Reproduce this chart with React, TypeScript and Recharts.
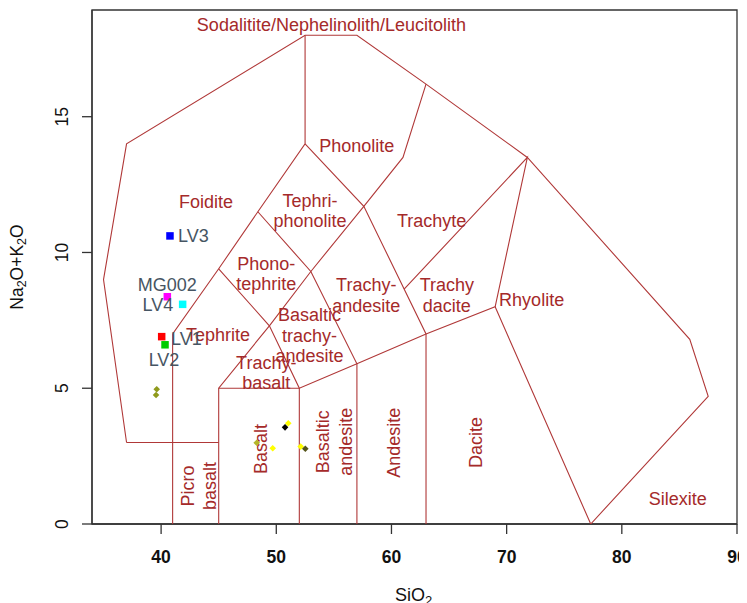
import React from 'react';
import { ScatterChart, XAxis, YAxis, Scatter, ReferenceArea } from 'recharts';

// ---------- data ----------
const xTicks = [40, 50, 60, 70, 80, 90];
const yTicks = [0, 5, 10, 15];
const xDomain = [34, 90];
const yDomain = [0, 18.93];

// TAS field boundaries (SiO2, Na2O+K2O)
const outerBoundary: [number, number][] = [[37, 3], [35, 9], [37, 14], [52.5, 18], [57, 18], [63, 16.2], [71.8, 13.5], [85.9, 6.8], [87.5, 4.7], [77.3, 0]];
const foiditeBase: [number, number][] = [[37, 3], [45, 3]];
const lineA: [number, number][] = [[41, 0], [41, 7], [45, 9.4], [48.4, 11.5], [52.5, 14], [52.5, 18]];
const lineB: [number, number][] = [[45, 0], [45, 5], [49.4, 7.3], [53, 9.3], [57.6, 11.7], [61, 13.5], [63, 16.2]];
const lineC: [number, number][] = [[45, 9.4], [49.4, 7.3], [52, 5], [52, 0]];
const lineD: [number, number][] = [[48.4, 11.5], [53, 9.3], [57, 5.9], [57, 0]];
const lineE: [number, number][] = [[52.5, 14], [57.6, 11.7], [63, 7], [63, 0]];
const lineF: [number, number][] = [[45, 5], [52, 5], [57, 5.9], [63, 7], [69, 8], [77.3, 0]];
const lineG: [number, number][] = [[61.1, 8.65], [71.8, 13.5], [69, 8]];
const boundaries = [outerBoundary, foiditeBase, lineA, lineB, lineC, lineD, lineE, lineF, lineG];

// field names and their anchor positions
const fieldLabels = [
  { name: 'Sodalitite/Nephelinolith/Leucitolith', x: 54.79, y: 18.39 },
  { name: 'Phonolite', x: 56.98, y: 13.91 },
  { name: 'Foidite', x: 43.9, y: 11.85 },
  { name: 'Tephri-\nphonolite', x: 52.93, y: 11.52 },
  { name: 'Trachyte', x: 63.49, y: 11.17 },
  { name: 'Phono-\ntephrite', x: 49.13, y: 9.21 },
  { name: 'Trachy-\nandesite', x: 57.81, y: 8.41 },
  { name: 'Trachy\ndacite', x: 64.81, y: 8.41 },
  { name: 'Rhyolite', x: 72.17, y: 8.26 },
  { name: 'Basaltic\ntrachy-\nandesite', x: 52.88, y: 6.94 },
  { name: 'Tephrite', x: 44.94, y: 6.97 },
  { name: 'Trachy-\nbasalt', x: 49.13, y: 5.55 },
  { name: 'Picro\nbasalt', x: 43.27, y: 1.4 },
  { name: 'Basalt', x: 48.67, y: 2.76 },
  { name: 'Basaltic\nandesite', x: 55.07, y: 3.03 },
  { name: 'Andesite', x: 60.2, y: 2.99 },
  { name: 'Dacite', x: 67.3, y: 3.0 },
  { name: 'Silexite', x: 84.86, y: 0.93 },
];
const verticalFields = ['Picro\nbasalt', 'Basalt', 'Basaltic\nandesite', 'Andesite', 'Dacite'];

// labelled samples
const sampleNames = ['LV3', 'MG002', 'LV4', 'LV1', 'LV2'];
const sampleSiO2 = [40.77, 40.54, 41.87, 40.05, 40.34];
const sampleAlk = [10.61, 8.37, 8.09, 6.9, 6.6];
const sampleColors = ['#0000FF', '#FF00FF', '#00FFFF', '#FF0000', '#00CC00'];

// unlabelled samples
const smallSiO2 = [39.62, 39.56, 50.76, 51.04, 48.3, 49.69, 52.12, 52.52];
const smallAlk = [4.96, 4.75, 3.56, 3.71, 2.99, 2.79, 2.85, 2.77];
const smallColors = ['#8f9a1c', '#8f9a1c', '#000000', '#FFFF00', '#b5b52a', '#FFFF00', '#FFFF00', '#55551a'];

// ---------- styles ----------
const BROWN = '#A52A2A';
const LINE = '#B03838';
const AXIS = '#333333';
const FONT = '"Liberation Sans", Arial, Helvetica, sans-serif';
const LABEL_GREY = '#465563';
const labelPlacement: Record<string, { dx: number; dy: number; anchor: 'start' | 'middle' | 'end' }> = {
  LV3: { dx: 8, dy: 0.5, anchor: 'start' },
  MG002: { dx: 0, dy: -11.7, anchor: 'middle' },
  LV4: { dx: -9.4, dy: 0.7, anchor: 'end' },
  LV1: { dx: 9.3, dy: 2.3, anchor: 'start' },
  LV2: { dx: -1, dy: 15.3, anchor: 'middle' },
};

const toPts = (arr: [number, number][]) => arr.map(([x, y]) => ({ x, y }));
const samples = sampleNames.map((name, i) => ({ name, x: sampleSiO2[i], y: sampleAlk[i], color: sampleColors[i] }));
const smallPts = smallSiO2.map((x, i) => ({ x, y: smallAlk[i], color: smallColors[i] }));

const Empty = () => <g />;

const FieldLabel = (props: any) => {
  const { cx, cy, payload } = props;
  const lines: string[] = payload.name.split('\n');
  const vertical = verticalFields.includes(payload.name);
  const step = vertical ? 22.5 : 20.3;
  const n = lines.length;
  return (
    <text
      x={cx}
      y={cy}
      fill={BROWN}
      fontSize={18}
      fontFamily={FONT}
      textAnchor="middle"
      transform={vertical ? `rotate(-90, ${cx}, ${cy})` : undefined}
    >
      {lines.map((l, i) => (
        <tspan key={i} x={cx} y={cy + (i - (n - 1) / 2) * step} dominantBaseline="central">
          {l}
        </tspan>
      ))}
    </text>
  );
};

const SquareMarker = (props: any) => {
  const { cx, cy, payload } = props;
  const p = labelPlacement[payload.name];
  const s = 7.5;
  return (
    <g>
      <rect x={cx - s / 2} y={cy - s / 2} width={s} height={s} fill={payload.color} />
      <text
        x={cx + p.dx}
        y={cy + p.dy}
        textAnchor={p.anchor}
        dominantBaseline="central"
        fontSize={18}
        fontFamily={FONT}
        fill={LABEL_GREY}
      >
        {payload.name}
      </text>
    </g>
  );
};

const DiamondMarker = (props: any) => {
  const { cx, cy, payload } = props;
  const r = 3.3;
  return <polygon points={`${cx},${cy - r} ${cx + r},${cy} ${cx},${cy + r} ${cx - r},${cy}`} fill={payload.color} />;
};

const XTick = (props: any) => {
  const { x, y, payload } = props;
  return (
    <text x={x} y={y + 22.7} textAnchor="middle" dominantBaseline="central" fontSize={17.5} fontWeight="bold" fontFamily={FONT} fill="#111">
      {payload.value}
    </text>
  );
};

const YTick = (props: any) => {
  const { x, y, payload } = props;
  const cx = x - 20;
  return (
    <text x={cx} y={y} textAnchor="middle" dominantBaseline="central" fontSize={17.5} fontFamily={FONT} fill="#111" transform={`rotate(-90, ${cx}, ${y})`}>
      {payload.value}
    </text>
  );
};

const XTitle = (props: any) => {
  const vb = props.viewBox || { x: 84, y: 516, width: 645 };
  const cx = vb.x + vb.width / 2 - 1;
  const cy = 587;
  return (
    <text x={cx} y={cy} textAnchor="middle" dominantBaseline="central" fontSize={18} fontFamily={FONT} fill="#111">
      SiO
      <tspan fontSize={13} dy={5}>2</tspan>
    </text>
  );
};

const YTitle = (props: any) => {
  const vb = props.viewBox || { x: 0, y: 2, height: 514 };
  const cx = 9;
  const cy = vb.y + vb.height / 2;
  return (
    <text x={cx} y={cy} textAnchor="middle" dominantBaseline="central" fontSize={17.5} fontFamily={FONT} fill="#111" transform={`rotate(-90, ${cx}, ${cy})`}>
      Na
      <tspan fontSize={12.5} dy={5}>2</tspan>
      <tspan dy={-5}>O+K</tspan>
      <tspan fontSize={12.5} dy={5}>2</tspan>
      <tspan dy={-5}>O</tspan>
    </text>
  );
};

export default function App() {
  return (
    <div style={{ width: 739, height: 595, background: '#fff' }}>
      <ScatterChart width={739} height={595} margin={{ top: 2, right: 10, bottom: 0, left: 0 }} style={{ overflow: 'visible' }}>
        <XAxis
          type="number"
          dataKey="x"
          domain={xDomain}
          ticks={xTicks}
          allowDataOverflow
          height={79}
          tickSize={10}
          tickMargin={0}
          stroke={AXIS}
          axisLine={{ stroke: AXIS, strokeWidth: 1.3 }}
          tickLine={{ stroke: AXIS, strokeWidth: 1.3 }}
          tick={<XTick />}
          label={<XTitle />}
          interval={0}
        />
        <YAxis
          type="number"
          dataKey="y"
          domain={yDomain}
          ticks={yTicks}
          allowDataOverflow
          width={84}
          tickSize={10}
          tickMargin={0}
          stroke={AXIS}
          axisLine={{ stroke: AXIS, strokeWidth: 1.3 }}
          tickLine={{ stroke: AXIS, strokeWidth: 1.3 }}
          tick={<YTick />}
          label={<YTitle />}
          interval={0}
        />
        <ReferenceArea x1={xDomain[0]} x2={xDomain[1]} y1={yDomain[0]} y2={yDomain[1]} fill="none" fillOpacity={0} stroke={AXIS} strokeWidth={1.3} ifOverflow="visible" />
        {boundaries.map((b, i) => (
          <Scatter
            key={`b${i}`}
            data={toPts(b)}
            line={{ stroke: LINE, strokeWidth: 1.1 }}
            lineJointType="linear"
            shape={<Empty />}
            isAnimationActive={false}
          />
        ))}
        <Scatter data={fieldLabels} shape={<FieldLabel />} isAnimationActive={false} />
        <Scatter data={smallPts} shape={<DiamondMarker />} isAnimationActive={false} />
        <Scatter data={samples} shape={<SquareMarker />} isAnimationActive={false} />
      </ScatterChart>
    </div>
  );
}
